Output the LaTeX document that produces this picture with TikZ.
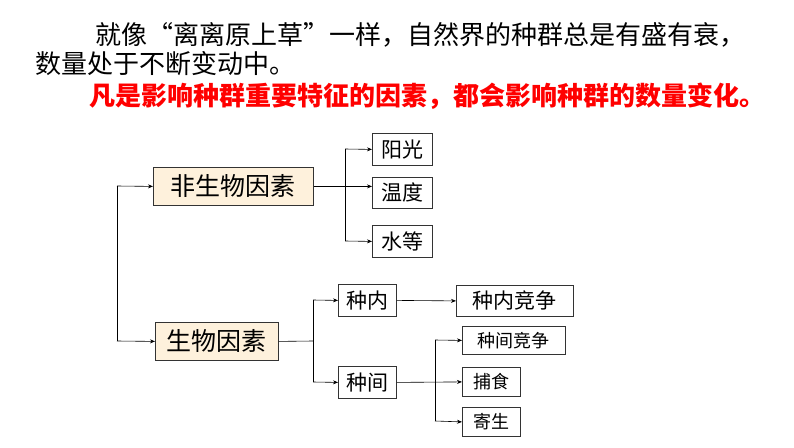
\documentclass[tikz,border=0pt]{standalone}
\usepackage{fontspec}
\setmainfont{Noto Sans CJK SC}
\usetikzlibrary{arrows.meta}
\begin{document}
\begin{tikzpicture}[x=1pt,y=-1pt,
  bx/.style={draw=black!80,line width=0.8pt,inner sep=0pt,anchor=north west},
  yb/.style={bx,fill=yellow!20!orange!12},
  ar/.style={-{Stealth[length=5pt,width=4pt]},line width=0.6pt},
  ln/.style={line width=0.6pt}]
\useasboundingbox (0,0) rectangle (794,447);
\node[anchor=west,font=\fontsize{26}{28}\selectfont] (t1) at (92,35) {就像“离离原上草”一样，自然界的种群总是有盛有衰，};
\node[anchor=west,font=\fontsize{26}{28}\selectfont] (t2) at (32,64) {数量处于不断变动中。};
\node[anchor=west,font=\fontsize{26}{28}\selectfont\bfseries,text=red] (t3) at (86,96) {凡是影响种群重要特征的因素，都会影响种群的数量变化。};
\newcommand{\bxn}[6]{\node[#1,minimum width=#4-#2,minimum height=#5-#3,font=\fontsize{#6}{#6}\selectfont] at (#2,#3)}
\bxn{yb}{153}{167}{313}{205}{25} (a) {非生物因素};
\bxn{yb}{155}{322}{278}{360}{25} (b) {生物因素};
\bxn{bx}{372}{133}{432}{165}{21} (c1) {阳光};
\bxn{bx}{372}{177}{432}{208}{21} (c2) {温度};
\bxn{bx}{372}{225}{432}{257}{21} (c3) {水等};
\bxn{bx}{338}{284}{396}{316}{21} (d1) {种内};
\bxn{bx}{456}{285}{573}{316}{21} (d2) {种内竞争};
\bxn{bx}{338}{366}{396}{398}{21} (e) {种间};
\bxn{bx}{462}{326}{565}{354}{18} (f1) {种间竞争};
\bxn{bx}{462}{367}{520}{396}{18} (f2) {捕食};
\bxn{bx}{462}{407}{520}{436}{18} (f3) {寄生};
\coordinate (L1) at (117,186);
\coordinate (L2) at (117,341);
\draw[ln] (L1) -- (L2);
\draw[ar] (L1) -- (a.west);
\draw[ar] (L2) -- (b.west);
\draw[ar] (a.east) -- (c2.west |- a.east);
\coordinate (M1) at (345,149); \coordinate (M2) at (345,241);
\draw[ln] (M1) -- (M2);
\draw[ar] (M1) -- (c1.west);
\draw[ar] (M2) -- (c3.west);
\coordinate (N0) at (313,341); \coordinate (N1) at (313,300); \coordinate (N2) at (313,382);
\draw[ln] (b.east) -- (N0);
\draw[ln] (N1) -- (N2);
\draw[ar] (N1) -- (d1.west);
\draw[ar] (N2) -- (e.west);
\draw[ar] (d1.east) -- (d2.west);
\draw[ar] (e.east) -- (f2.west);
\coordinate (P1) at (435,340); \coordinate (P2) at (435,421);
\draw[ln] (P1) -- (P2);
\draw[ar] (P1) -- (f1.west);
\draw[ar] (P2) -- (f3.west);
\end{tikzpicture}
\end{document}
